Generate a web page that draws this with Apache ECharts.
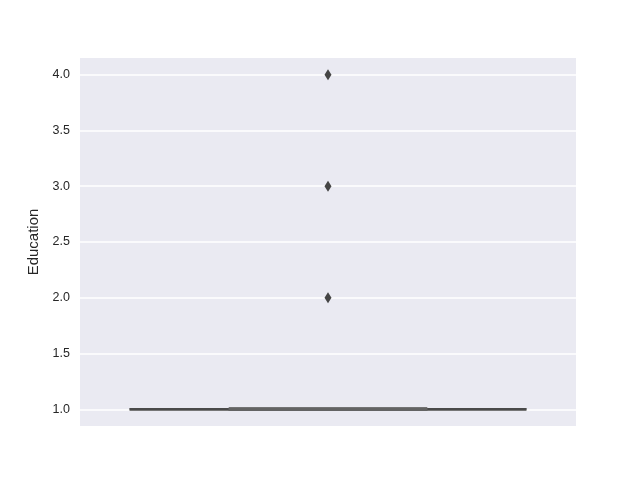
<!DOCTYPE html>
<html>
<head>
<meta charset="utf-8">
<script src="https://cdn.jsdelivr.net/npm/echarts@6/dist/echarts.min.js"></script>
<style>html,body{margin:0;padding:0;background:#fff;}#c{width:640px;height:480px;}</style>
</head>
<body>
<div id="c"></div>
<script>
var categories = [''];
// [min, Q1, median, Q3, max]
var boxValues = [[1, 1, 1, 1, 1]];
var outliers = [[0, 2], [0, 3], [0, 4]];
var yTicks = [1.0, 1.5, 2.0, 2.5, 3.0, 3.5, 4.0];
var yLabel = 'Education';

var chart = echarts.init(document.getElementById('c'));
chart.setOption({
  backgroundColor: '#ffffff',
  animation: false,
  grid: {left: 80, right: 64, top: 58, bottom: 54, show: true, backgroundColor: '#eaeaf2', borderWidth: 0},
  xAxis: {
    type: 'category', data: categories,
    axisLine: {show: false}, axisTick: {show: false}, axisLabel: {show: false}, splitLine: {show: false}
  },
  yAxis: {
    type: 'value', min: 0.85, max: 4.15,
    name: yLabel, nameLocation: 'middle', nameGap: 32,
    nameTextStyle: {fontFamily: 'Liberation Sans', fontSize: 15, color: '#262626'},
    axisLine: {show: false},
    axisTick: {show: false, customValues: yTicks},
    axisLabel: {customValues: yTicks, fontFamily: 'Liberation Sans', fontSize: 12.5, color: '#262626', margin: 10,
      formatter: function (v) { return v.toFixed(1); }},
    splitLine: {show: true, lineStyle: {color: '#ffffff', width: 1.5}}
  },
  series: [
    {
      type: 'custom',
      data: boxValues.map(function (d, i) { return [i].concat(d); }),
      renderItem: function (params, api) {
        var x = api.value(0);
        var band = api.size([1, 0])[0];
        var pMin = api.coord([x, api.value(1)]);
        var pQ1 = api.coord([x, api.value(2)]);
        var pMed = api.coord([x, api.value(3)]);
        var pQ3 = api.coord([x, api.value(4)]);
        var pMax = api.coord([x, api.value(5)]);
        var cx = pMed[0];
        var capHalf = band * 0.4;
        var boxHalf = band * 0.2;
        var capStyle = {stroke: '#4a4a4a', lineWidth: 2.5};
        var boxStyle = {stroke: '#636363', lineWidth: 3.5, fill: null};
        return {
          type: 'group',
          children: [
            {type: 'line', shape: {x1: cx - capHalf, y1: pMin[1], x2: cx + capHalf, y2: pMin[1]}, style: capStyle},
            {type: 'line', shape: {x1: cx - capHalf, y1: pMax[1], x2: cx + capHalf, y2: pMax[1]}, style: capStyle},
            {type: 'line', shape: {x1: cx, y1: pMin[1], x2: cx, y2: pQ1[1]}, style: capStyle},
            {type: 'line', shape: {x1: cx, y1: pQ3[1], x2: cx, y2: pMax[1]}, style: capStyle},
            {type: 'line', shape: {x1: cx - boxHalf, y1: pQ1[1], x2: cx + boxHalf, y2: pQ1[1]}, style: boxStyle},
            {type: 'line', shape: {x1: cx - boxHalf, y1: pQ3[1], x2: cx + boxHalf, y2: pQ3[1]}, style: boxStyle},
            {type: 'line', shape: {x1: cx - boxHalf, y1: pMed[1], x2: cx + boxHalf, y2: pMed[1]}, style: boxStyle}
          ]
        };
      },
      z: 3
    },
    {
      type: 'scatter',
      data: outliers,
      symbol: 'diamond',
      symbolSize: [7, 11],
      itemStyle: {color: '#454545', opacity: 1},
      z: 4
    }
  ]
});
</script>
</body>
</html>
